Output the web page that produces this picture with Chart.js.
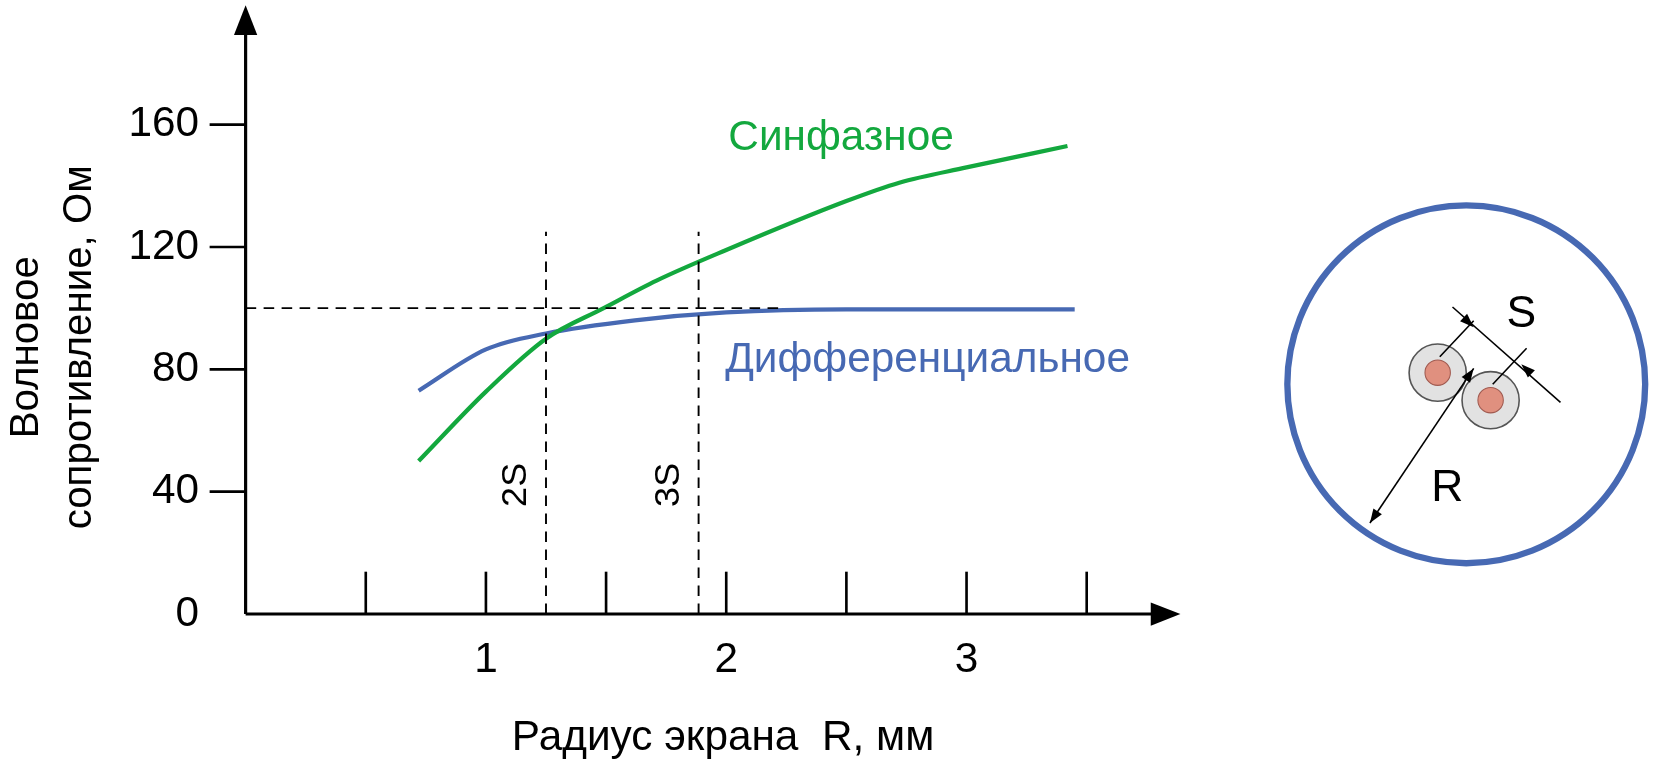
<!DOCTYPE html>
<html><head><meta charset="utf-8">
<script src="https://cdn.jsdelivr.net/npm/chart.js@4"></script>
<style>html,body{margin:0;background:#fff}#w{width:1660px;height:775px}</style>
</head><body><div id="w"><canvas id="c"></canvas></div>
<script>
const greenX=[0.72,1.0,1.25,1.49,1.71,2.0,2.5,2.72,3.0,3.42];
const greenY=[50,72.7,90,100,109,119,135,141,146,153];
const blueX=[0.72,1.0,1.25,1.62,2.0,2.5,3.45];
const blueY=[73,86.5,91.7,96,98.6,99.6,99.6];
const yTicks=[0,40,80,120,160];
const xLabels=[1,2,3];
const xTickMarks=[0.5,1,1.5,2,2.5,3,3.5];
const refLevel=100, vLines=[1.25,1.885], vLinesTop=125, vNames=['2S','3S'];
const seriesNames=['Синфазное','Дифференциальное'];
const xTitle='Радиус экрана  R, мм', yTitle=['Волновое','сопротивление, Ом'];
const GREEN='#13a83e', BLUE='#4769b3', F='"Liberation Sans", Arial, sans-serif';
const K=1660/1568;

const deco={id:'deco',afterDraw(ch){
 const c=ch.ctx,x=ch.scales.x,y=ch.scales.y,a=ch.chartArea;
 const X=v=>x.getPixelForValue(v)/K,Y=v=>y.getPixelForValue(v)/K;
 const R=a.right/K,T=a.top/K;
 c.save();c.scale(K,K);c.strokeStyle='#000';c.fillStyle='#000';c.lineWidth=3;
 const x0=X(0),y0=Y(0);
 c.beginPath();c.moveTo(x0,y0);c.lineTo(R-25,y0);c.moveTo(x0,y0);c.lineTo(x0,T+25);c.stroke();
 c.beginPath();c.moveTo(R,y0);c.lineTo(R-28,y0-11);c.lineTo(R-28,y0+11);c.fill();
 c.beginPath();c.moveTo(x0,T);c.lineTo(x0-11,T+28);c.lineTo(x0+11,T+28);c.fill();
 c.lineWidth=2.5;
 xTickMarks.forEach(v=>{c.beginPath();c.moveTo(X(v),y0);c.lineTo(X(v),y0-40);c.stroke();});
 yTicks.slice(1).forEach(v=>{c.beginPath();c.moveTo(x0-34,Y(v));c.lineTo(x0,Y(v));c.stroke();});
 c.font='40px '+F;c.textAlign='right';c.textBaseline='middle';
 yTicks.forEach(v=>c.fillText(String(v),188,Y(v)));
 c.textAlign='center';c.textBaseline='top';
 xLabels.forEach(v=>c.fillText(String(v),X(v),604));
 c.fillText(xTitle,683,677);
 c.save();c.translate(25,328);c.rotate(-Math.PI/2);c.textBaseline='middle';c.font='38px '+F;
 c.fillText(yTitle[0],0,0);c.fillText(yTitle[1],0,50);c.restore();
 c.setLineDash([10,7]);c.lineWidth=1.8;
 c.beginPath();c.moveTo(x0,Y(refLevel));c.lineTo(X(2.22),Y(refLevel));c.stroke();
 vLines.forEach(v=>{c.beginPath();c.moveTo(X(v),y0);c.lineTo(X(v),Y(vLinesTop));c.stroke();});
 c.setLineDash([]);
 c.font='34px '+F;
 vLines.forEach((v,i)=>{c.save();c.translate(X(v)-28,458);c.rotate(-Math.PI/2);c.textAlign='center';c.textBaseline='middle';c.fillText(vNames[i],0,0);c.restore();});
 c.font='40px '+F;c.textAlign='left';c.textBaseline='middle';
 c.fillStyle=GREEN;c.fillText(seriesNames[0],688,131);
 c.fillStyle=BLUE;c.fillText(seriesNames[1],685,340);
 c.strokeStyle=BLUE;c.lineWidth=6;c.beginPath();c.arc(1385,363,169,0,2*Math.PI);c.stroke();
 [[1358,352],[1408,378]].forEach(p=>{c.beginPath();c.arc(p[0],p[1],27,0,2*Math.PI);c.fillStyle='#e2e2e2';c.fill();c.strokeStyle='#555';c.lineWidth=1.5;c.stroke();
  c.beginPath();c.arc(p[0],p[1],12,0,2*Math.PI);c.fillStyle='#e0907f';c.fill();c.strokeStyle='#a05a50';c.lineWidth=1;c.stroke();});
 const arrowHead=(x1,y1,x2,y2)=>{const ang=Math.atan2(y2-y1,x2-x1);c.beginPath();c.moveTo(x2,y2);
  c.lineTo(x2-14*Math.cos(ang-0.35),y2-14*Math.sin(ang-0.35));c.lineTo(x2-14*Math.cos(ang+0.35),y2-14*Math.sin(ang+0.35));c.fill();};
 c.strokeStyle='#000';c.fillStyle='#000';c.lineWidth=1.5;
 c.beginPath();c.moveTo(1372,290);c.lineTo(1474,380);c.stroke();
 c.beginPath();c.moveTo(1360,337);c.lineTo(1392,303);c.stroke();
 c.beginPath();c.moveTo(1410,363);c.lineTo(1442,329);c.stroke();
 arrowHead(1372,290,1392,309);arrowHead(1460,366,1437,344);
 c.beginPath();c.moveTo(1392,348);c.lineTo(1294,494);c.stroke();
 arrowHead(1330,440,1294,494);arrowHead(1360,395,1392,348);
 c.font='42px '+F;c.textAlign='left';c.fillText('S',1423,297);c.fillText('R',1352,462);
 c.restore();
}};

new Chart(document.getElementById('c'),{type:'line',
 data:{datasets:[
  {label:seriesNames[0],data:greenX.map((v,i)=>({x:v,y:greenY[i]})),borderColor:GREEN,borderWidth:4*K,pointRadius:0,cubicInterpolationMode:'monotone'},
  {label:seriesNames[1],data:blueX.map((v,i)=>({x:v,y:blueY[i]})),borderColor:BLUE,borderWidth:4*K,pointRadius:0,cubicInterpolationMode:'monotone'}]},
 options:{responsive:true,maintainAspectRatio:false,animation:false,
  layout:{padding:{left:232*K,right:1660-1115*K,top:5*K,bottom:775-580*K}},
  plugins:{legend:{display:false},tooltip:{enabled:false}},
  scales:{x:{type:'linear',min:0,max:3.89,display:false},y:{min:0,max:199,display:false}}},
 plugins:[deco]});
</script></body></html>
